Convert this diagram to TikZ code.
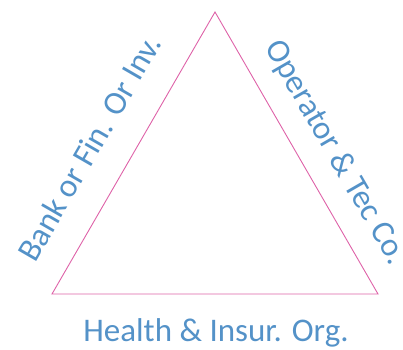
\documentclass[tikz,border=0pt]{standalone}
\usepackage{fontspec}
\setmainfont{Carlito}
\usepackage{tikz}
\definecolor{edgepink}{RGB}{222,98,168}
\definecolor{labelblue}{RGB}{84,146,200}

\begin{document}
\begin{tikzpicture}[x=1pt, y=-1pt,
    side/.style = {labelblue, font=\fontsize{33}{40}\selectfont, inner sep=0pt}]
    \useasboundingbox (0,0) rectangle (403,349);
    % corners of the triangle
    \coordinate (top) at (215,12);
    \coordinate (bl) at (52,294);
    \coordinate (br) at (378,294);
    % draw triangle
    \draw[edgepink, line width=0.9pt] (top) -- (bl) -- (br) -- cycle;

    % draw labels
    \node[side, rotate=60] (bank) at (89,148) {Bank or Fin. Or Inv.};
    \node[side, rotate=-60] (operator) at (335,153) {Operator \& Tec Co.};
    \node[side] (health) at (216,333) {Health \& Insur. Org.};
\end{tikzpicture}
\end{document}
